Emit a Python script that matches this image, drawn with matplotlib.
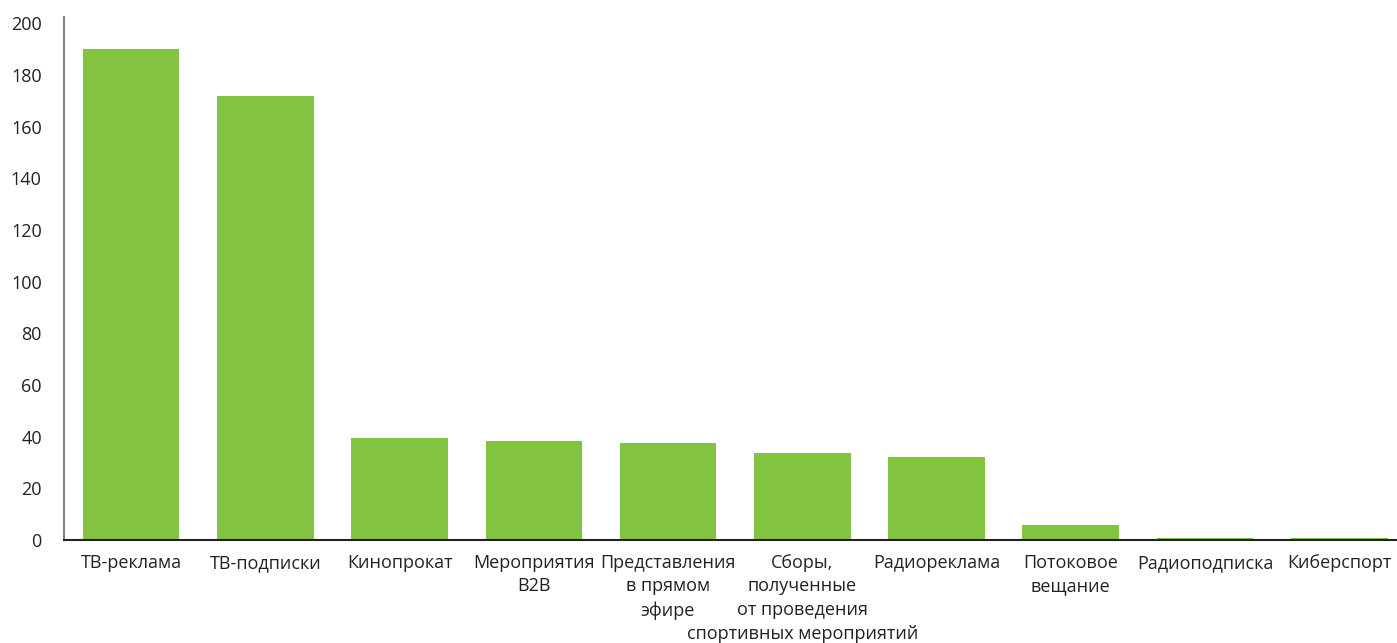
import matplotlib.pyplot as plt

categories = [
    "ТВ-реклама",
    "ТВ-подписки",
    "Кинопрокат",
    "Мероприятия\nB2B",
    "Представления\nв прямом\nэфире",
    "Сборы,\nполученные\nот проведения\nспортивных мероприятий",
    "Радиореклама",
    "Потоковое\nвещание",
    "Радиоподписка",
    "Киберспорт",
]
values = [190, 172, 39.5, 38.5, 37.5, 33.5, 32.3, 5.8, 0.8, 0.8]
yticks = [0, 20, 40, 60, 80, 100, 120, 140, 160, 180, 200]

plt.rcParams['font.family'] = ['Open Sans', 'DejaVu Sans']

fig = plt.figure(figsize=(13.97, 6.43), dpi=100)
ax = fig.add_axes([64 / 1397, 103 / 643, 1333 / 1397, 523 / 643])

x = list(range(len(categories)))
ax.bar(x, values, width=0.72, color='#82c341')

ax.set_xlim(-0.5, 9.43)
ax.set_ylim(0, 202.4)
ax.set_yticks(yticks)
ax.set_xticks(x)
ax.set_xticklabels(categories, fontsize=13, color='#222222', linespacing=1.4)
ax.tick_params(axis='y', labelsize=13, labelcolor='#222222', length=0, pad=16)
ax.tick_params(axis='x', length=0, pad=10)

ax.spines['top'].set_visible(False)
ax.spines['right'].set_visible(False)
ax.spines['left'].set_color('#808080')
ax.spines['left'].set_linewidth(1.5)
ax.spines['bottom'].set_color('#222222')
ax.spines['bottom'].set_linewidth(1.5)

plt.savefig('out.png', dpi=100)
